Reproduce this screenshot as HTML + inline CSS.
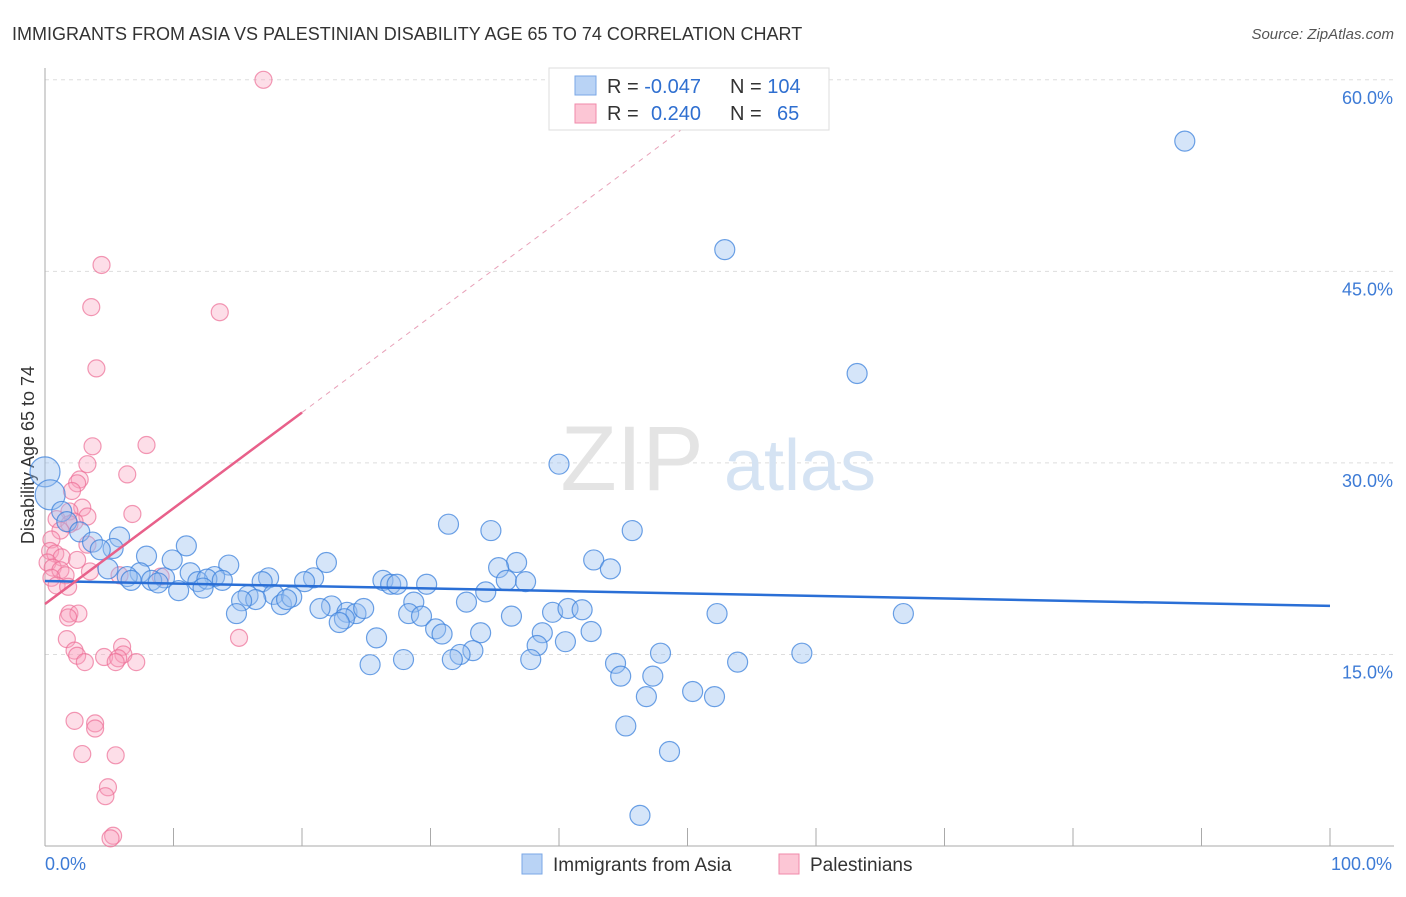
<!DOCTYPE html>
<html><head><meta charset="utf-8"><style>
body{margin:0;background:#fff;font-family:"Liberation Sans",sans-serif}
svg text{font-family:"Liberation Sans",sans-serif}
</style></head><body>
<svg id="chart" width="1406" height="892">
<text x="12" y="40" font-size="18" fill="#333">IMMIGRANTS FROM ASIA VS PALESTINIAN DISABILITY AGE 65 TO 74 CORRELATION CHART</text>
<text x="1394" y="39" font-size="15" fill="#555" font-style="italic" text-anchor="end">Source: ZipAtlas.com</text>
<g id="grid"></g>
<g><text x="632" y="490" font-size="92" fill="#e4e4e4" font-family="Liberation Serif" text-anchor="middle">ZIP</text><text x="800" y="490" font-size="72" fill="#d5e3f3" text-anchor="middle">atlas</text></g>
<text transform="translate(34,455) rotate(-90)" font-size="18" fill="#333" text-anchor="middle">Disability Age 65 to 74</text>
<g id="pts"></g>
<g id="lines"></g>
<g>
<rect x="549" y="68" width="280" height="62" fill="#fff" stroke="#ddd"/>
<rect x="575" y="76" width="21" height="19" fill="#b9d3f5" stroke="#7aa7e6"/>
<rect x="575" y="104" width="21" height="19" fill="#fcc6d5" stroke="#f08aaa"/>
<text x="607" y="93" font-size="20" fill="#333">R = <tspan fill="#2f6fd0">-0.047</tspan></text>
<text x="730" y="93" font-size="20" fill="#333">N = <tspan fill="#2f6fd0">104</tspan></text>
<text x="607" y="120" font-size="20" fill="#333">R = <tspan fill="#2f6fd0" x="651">0.240</tspan></text>
<text x="730" y="120" font-size="20" fill="#333">N = <tspan fill="#2f6fd0" x="777">65</tspan></text>
</g>
<g>
<rect x="522" y="854" width="20" height="20" fill="#b9d3f5" stroke="#7aa7e6"/>
<text x="553" y="871" font-size="19" fill="#333">Immigrants from Asia</text>
<rect x="779" y="854" width="20" height="20" fill="#fcc6d5" stroke="#f08aaa"/>
<text x="810" y="871" font-size="19" fill="#333">Palestinians</text>
</g>
</svg>
<script>
const yTicks=[15,30,45,60];
const yTickLabels=["15.0%","30.0%","45.0%","60.0%"];
const xTickLabels=["0.0%","100.0%"];
const asiaX=[88.7,52.9,63.2,40.0,0,0.4,1.3,1.7,31.4,34.7,45.7,2.7,3.7,5.8,5.3,4.3,11.0,7.9,9.9,14.3,21.9,36.7,42.7,44.0,35.3,4.9,7.4,11.3,6.4,9.3,13.2,17.4,6.7,8.3,8.8,11.9,12.6,13.8,16.9,20.9,20.2,26.3,26.9,27.4,29.7,35.9,37.4,10.4,12.3,15.8,17.8,16.4,18.4,19.2,18.8,15.3,14.9,28.7,32.8,34.3,22.3,21.4,23.5,24.2,24.8,23.3,22.9,28.3,29.3,36.3,39.5,40.7,41.8,52.3,66.8,30.4,30.9,33.9,38.7,42.5,25.8,38.3,40.5,33.3,32.3,31.7,47.9,58.9,27.9,25.3,37.8,44.4,53.9,44.8,47.3,50.4,52.1,46.8,45.2,48.6,46.3];
const asiaY=[55.2,46.7,37.0,29.9,29.3,27.5,26.2,25.4,25.2,24.7,24.7,24.6,23.8,24.2,23.3,23.2,23.5,22.7,22.4,22.0,22.2,22.2,22.4,21.7,21.8,21.7,21.4,21.4,21.1,21.0,21.1,21.0,20.8,20.8,20.6,20.7,20.9,20.8,20.7,21.0,20.7,20.8,20.5,20.5,20.5,20.8,20.7,20.0,20.2,19.6,19.7,19.3,18.9,19.5,19.3,19.2,18.2,19.1,19.1,19.9,18.8,18.6,18.3,18.2,18.6,17.8,17.5,18.2,18.0,18.0,18.3,18.6,18.5,18.2,18.2,17.0,16.6,16.7,16.7,16.8,16.3,15.7,16.0,15.3,15.0,14.6,15.1,15.1,14.6,14.2,14.6,14.3,14.4,13.3,13.3,12.1,11.7,11.7,9.4,7.4,2.4];
const palX=[17.0,4.4,3.6,13.6,4.0,3.7,7.9,3.3,6.4,2.7,2.5,2.1,6.8,2.9,1.9,3.3,0.9,2.3,1.9,1.2,0.5,3.3,0.4,0.8,1.3,2.5,0.2,0.6,1.2,1.6,0.5,3.5,5.8,0.9,1.8,9.0,1.9,2.6,1.8,1.7,15.1,2.3,2.5,3.1,4.6,6.0,6.1,5.7,5.5,7.1,2.3,3.9,3.9,2.9,5.5,4.9,4.7,5.3,5.1];
const palY=[60.0,45.5,42.2,41.8,37.4,31.3,31.4,29.9,29.1,28.7,28.4,27.8,26.0,26.5,26.2,25.8,25.6,25.4,25.2,24.7,24.0,23.6,23.1,22.9,22.6,22.4,22.2,21.8,21.6,21.2,21.0,21.5,21.2,20.4,20.3,21.1,18.2,18.2,17.9,16.2,16.3,15.3,14.9,14.4,14.8,15.6,15.0,14.7,14.4,14.4,9.8,9.6,9.2,7.2,7.1,4.6,3.9,0.8,0.6];
const asiaFit=[20.75,18.8];
const palFit=[18.95,0.75];
const NS="http://www.w3.org/2000/svg";
const sx=v=>45+v*12.85, sy=v=>846-v*12.77;
function mk(t,a,p){const e=document.createElementNS(NS,t);for(const k in a)e.setAttribute(k,a[k]);p.appendChild(e);return e;}
const grid=document.getElementById('grid');
yTicks.forEach((t,i)=>{
 const l=mk('line',{x1:45,x2:1394,y1:sy(t),y2:sy(t),stroke:'#ddd','stroke-dasharray':'4,4'},grid);
 
 
 const tx=mk('text',{x:1393,y:sy(t)+24,'font-size':18,fill:'#3d7bd6','text-anchor':'end'},grid);tx.textContent=yTickLabels[i];
 
 
});
const ax=mk('line',{x1:45,x2:45,y1:68,y2:846,stroke:'#aaa'},grid);


const bx=mk('line',{x1:45,x2:1394,y1:846,y2:846,stroke:'#aaa'},grid);


for(let i=0;i<=10;i++){const t=mk('line',{x1:sx(i*10),x2:sx(i*10),y1:828,y2:846,stroke:'#aaa'},grid);
 
 }
[[0,'start'],[100,'end']].forEach((d,i)=>{const t=mk('text',{x:sx(d[0])+(i?62:0),y:870,'font-size':18,fill:'#3d7bd6','text-anchor':d[1]},grid);t.textContent=xTickLabels[i];
 
 });
const pts=document.getElementById('pts');
palX.forEach((x,i)=>{const c=mk('circle',{cx:sx(x),cy:sy(palY[i]),r:8.5,fill:'rgba(248,160,188,0.35)',stroke:'rgba(236,110,150,0.7)','stroke-width':1.2},pts);
 
 });
asiaX.forEach((x,i)=>{const c=mk('circle',{cx:sx(x),cy:sy(asiaY[i]),r:i==4||i==5?15:10,fill:'rgba(150,190,240,0.4)',stroke:'rgba(60,130,220,0.75)','stroke-width':1.2},pts);
 
 });
const lines=document.getElementById('lines');
const bl=mk('line',{x1:sx(0),y1:sy(asiaFit[0]),x2:sx(100),y2:sy(asiaFit[1]),stroke:'#2a6fd6','stroke-width':2.5},lines);


const xe=(60-palFit[0])/palFit[1];
const pd=mk('line',{x1:sx(20),y1:sy(palFit[0]+20*palFit[1]),x2:sx(xe),y2:sy(60),stroke:'#e8a0b8','stroke-width':1,'stroke-dasharray':'5,5'},lines);


const pl=mk('line',{x1:sx(0),y1:sy(palFit[0]),x2:sx(20),y2:sy(palFit[0]+20*palFit[1]),stroke:'#e8608a','stroke-width':2.5},lines);


</script>
</body></html>
